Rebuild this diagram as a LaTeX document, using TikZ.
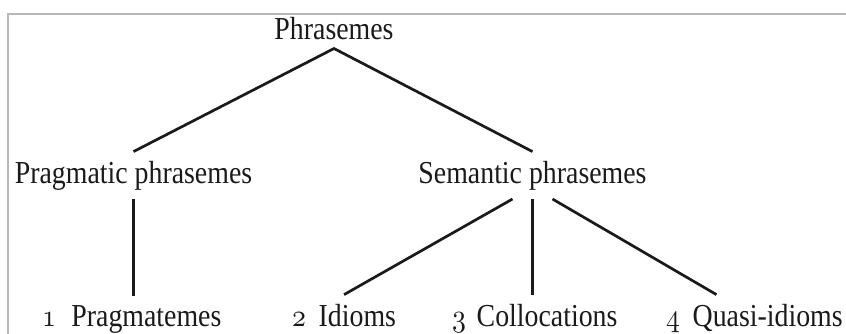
\documentclass[tikz,border=0pt]{standalone}
\usepackage{fontspec}
\setmainfont{Liberation Serif}
\usetikzlibrary{calc}
\DeclareFontFamily{OML}{cmmx}{\skewchar\font=127}
\DeclareFontShape{OML}{cmmx}{m}{it}{<->cmmi10}{}
\definecolor{ink}{HTML}{1A1A1A}
\definecolor{framegray}{HTML}{B8B8B8}
\newcommand{\lbl}[1]{\scalebox{0.87}[1]{#1}}
\newcommand{\osn}[1]{{\fontencoding{OML}\fontfamily{cmmx}\fontseries{m}\fontshape{it}\selectfont #1}}
\tikzset{
  term/.style={inner sep=9pt, text=ink, font=\fontsize{32}{37}\selectfont},
  branch/.style={draw=ink, line width=2.7pt},
  framel/.style={draw=framegray, line width=2.2pt}
}
\begin{document}
\begin{tikzpicture}[x=1pt,y=-1pt]
\useasboundingbox (0,0) rectangle (846,333);
\draw[framel] (8,340) -- (8,14) -- (850,14);
\node[term, anchor=base] (ph) at (334,39) {\lbl{Phrasemes}};
\node[term, anchor=base] (pr) at (133.5,183) {\lbl{Pragmatic phrasemes}};
\node[term, anchor=base] (se) at (532.5,183) {\lbl{Semantic phrasemes}};
\node[term, anchor=base west] (pm) at (33,326) {\lbl{\osn{1}\hspace{0.55em}Pragmatemes}};
\node[term, anchor=base west] (id) at (283,326) {\lbl{\osn{2}\hspace{0.45em}Idioms}};
\node[term, anchor=base west] (co) at (443,326) {\lbl{\osn{3}\hspace{0.38em}Collocations}};
\node[term, anchor=base west] (qi) at (657,326) {\lbl{\osn{4}\hspace{0.45em}Quasi-idioms}};
\draw[branch] (pr.north) -- (ph.south) -- (se.north);
\draw[branch] (pr.south) -- (pr.south |- pm.north);
\draw[branch] ([xshift=-20pt]se.south) -- (id.north);
\draw[branch] (se.south) -- (se.south |- co.north);
\draw[branch] ([xshift=20pt]se.south) -- ([xshift=-38pt]qi.north);
\end{tikzpicture}
\end{document}
